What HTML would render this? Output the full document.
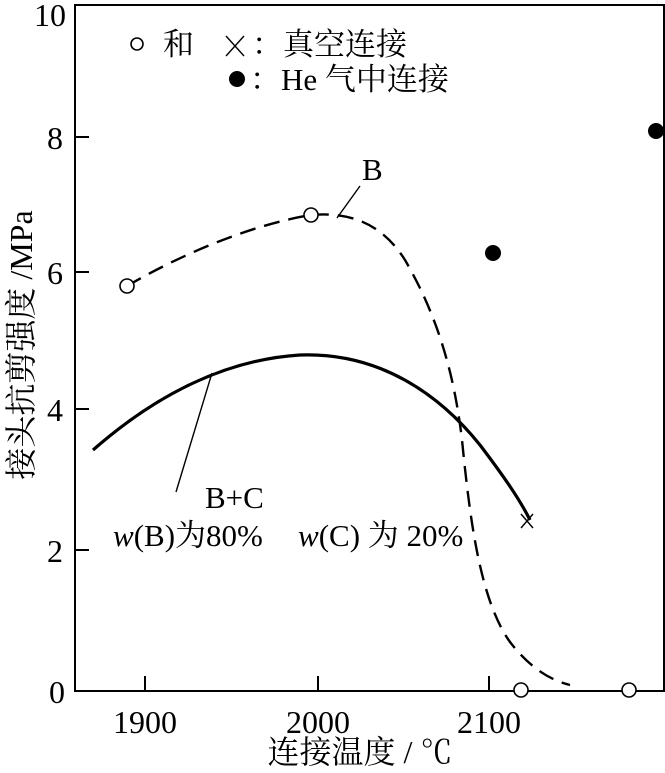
<!DOCTYPE html>
<html><head><meta charset="utf-8"><style>
body{margin:0;background:#fff}
svg text{font-family:"Liberation Serif","Noto Serif CJK SC",serif;fill:#000}
</style></head><body>
<svg width="665" height="768" viewBox="0 0 665 768" xmlns="http://www.w3.org/2000/svg">
<g stroke="#000" fill="none" stroke-width="2">
<path d="M75 5 H664 V691 H75 Z"/>
<path d="M145 691 V676 M318 691 V676 M489 691 V676"/>
<path d="M75 137 H89 M75 272 H89 M75 409 H89 M75 550 H89"/>
</g>
<g font-size="32">
<text x="34" y="26">10</text>
<text x="47" y="149">8</text>
<text x="47" y="284">6</text>
<text x="47" y="421">4</text>
<text x="47" y="562">2</text>
<text x="49" y="703">0</text>
<text x="145" y="733" text-anchor="middle">1900</text>
<text x="318" y="733" text-anchor="middle">2000</text>
<text x="489" y="733" text-anchor="middle">2100</text>
<text x="360" y="763" text-anchor="middle">连接温度 / ℃</text>
<text transform="translate(32,345) rotate(-90)" text-anchor="middle">接头抗剪强度 /MPa</text>
</g>
<path d="M127 286 C180 255 250 225 311 215 C345 212 380 220 405 260 C440 320 455 380 462 440 C470 520 480 600 510 642 C530 668 550 680 570 685" stroke="#000" stroke-width="2.4" fill="none" stroke-dasharray="16,9"/>
<path d="M93 450 C150 400 220 360 300 355 C380 352 440 395 480 445 C505 478 520 500 530 520" stroke="#000" stroke-width="3.2" fill="none"/>
<g stroke="#000" stroke-width="1.4">
<line x1="337" y1="218" x2="360" y2="186"/>
<line x1="212" y1="373" x2="176" y2="492"/>
<line x1="521" y1="514" x2="533" y2="528"/><line x1="533" y1="514" x2="521" y2="528"/>
<line x1="226" y1="36" x2="244" y2="56"/><line x1="244" y1="36" x2="226" y2="56"/>
</g>
<g fill="#fff" stroke="#000" stroke-width="1.6">
<circle cx="127" cy="286" r="7"/>
<circle cx="311" cy="215" r="7"/>
<circle cx="521" cy="690" r="7"/>
<circle cx="629" cy="690" r="7"/>
<circle cx="137" cy="44" r="6"/>
</g>
<circle cx="493" cy="253" r="8"/>
<circle cx="656" cy="131" r="8"/>
<circle cx="237" cy="79" r="8"/>
<g font-size="31">
<text x="362" y="180">B</text>
<text x="205" y="508">B+C</text>
<text x="113" y="546"><tspan font-style="italic">w</tspan>(B)为80%</text>
<text x="298" y="546"><tspan font-style="italic">w</tspan>(C) 为 20%</text>
<text x="163" y="55">和</text>
<text x="252" y="55">：真空连接</text>
<text x="250" y="90">：He 气中连接</text>
</g>
</svg>
</body></html>
